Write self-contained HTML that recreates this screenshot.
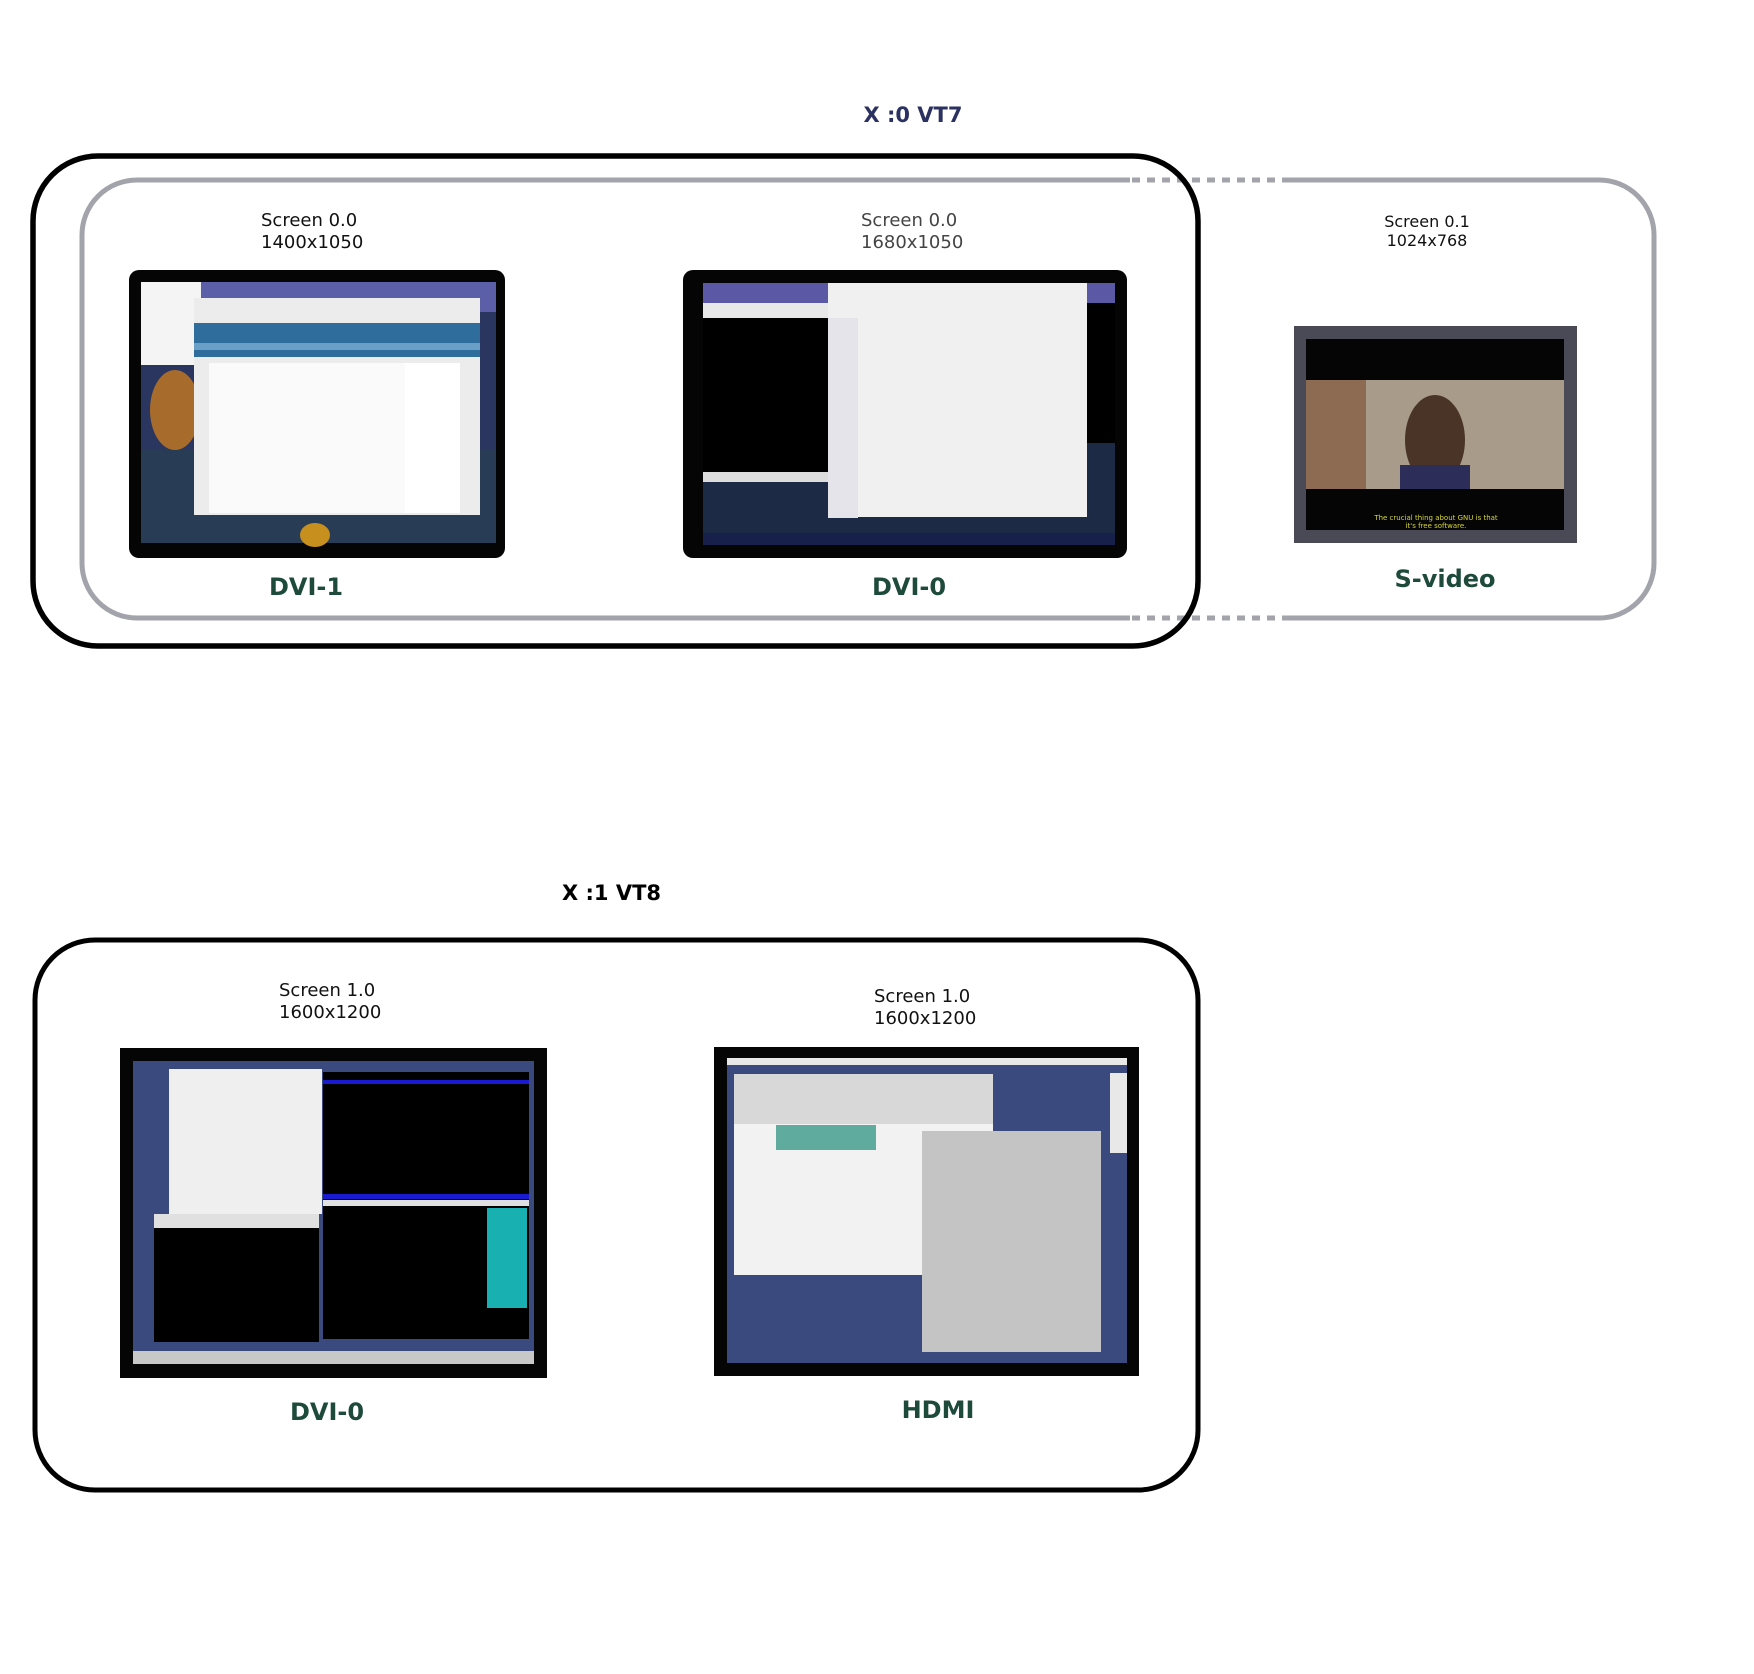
<!DOCTYPE html>
<html><head><meta charset="utf-8"><style>
html,body{margin:0;padding:0;background:#fff;}
svg{display:block;}
text{font-family:"DejaVu Sans","Liberation Sans",sans-serif;}
</style></head><body>
<svg width="1754" height="1674" viewBox="0 0 1754 1674" xmlns="http://www.w3.org/2000/svg">
<rect width="1754" height="1674" fill="#fff"/>

<rect x="82" y="180" width="1572" height="438" rx="55" fill="none" stroke="#a3a3ab" stroke-width="5"/>
<rect x="1130" y="174" width="160" height="12" fill="#fff"/>
<rect x="1130" y="612" width="160" height="12" fill="#fff"/>
<line x1="1132" y1="180" x2="1290" y2="180" stroke="#a3a3ab" stroke-width="5" stroke-dasharray="8 7"/>
<line x1="1132" y1="618" x2="1290" y2="618" stroke="#a3a3ab" stroke-width="5" stroke-dasharray="8 7"/>

<rect x="33" y="156" width="1165" height="490" rx="65" fill="none" stroke="#000" stroke-width="5.5"/>
<text x="913" y="122" font-size="21" font-weight="bold" fill="#2b3160" text-anchor="middle">X :0 VT7</text>

<text x="261" y="226" font-size="18" fill="#111">Screen 0.0</text>
<text x="261" y="248" font-size="18" fill="#111">1400x1050</text>
<text x="861" y="226" font-size="18" fill="#444">Screen 0.0</text>
<text x="861" y="248" font-size="18" fill="#444">1680x1050</text>
<text x="1427" y="227" font-size="16" fill="#111" text-anchor="middle">Screen 0.1</text>
<text x="1427" y="246" font-size="16" fill="#111" text-anchor="middle">1024x768</text>

<rect x="129" y="270" width="376" height="288" rx="10" fill="#050505"/>
<rect x="141" y="282" width="355" height="261" fill="#2a3560"/>
<rect x="141" y="282" width="355" height="30" fill="#5a5fa8"/>
<rect x="141" y="450" width="355" height="93" fill="#283c55"/>
<ellipse cx="175" cy="410" rx="25" ry="40" fill="#c77a1e" opacity="0.8"/>
<rect x="141" y="282" width="60" height="83" fill="#f4f4f4"/>
<rect x="194" y="298" width="286" height="217" fill="#ececec"/>
<rect x="194" y="323" width="286" height="34" fill="#2f6e9c"/>
<rect x="194" y="343" width="286" height="7" fill="#6aa0c8"/>
<rect x="209" y="363" width="200" height="150" fill="#fafafa"/>
<rect x="405" y="363" width="55" height="150" fill="#fff"/>
<ellipse cx="315" cy="535" rx="15" ry="12" fill="#c7901e"/>

<rect x="683" y="270" width="444" height="288" rx="10" fill="#050505"/>
<rect x="703" y="283" width="412" height="262" fill="#1d2a45"/>
<rect x="703" y="283" width="412" height="20" fill="#5b59a5"/>
<rect x="703" y="303" width="125" height="15" fill="#e8e8e8"/>
<rect x="703" y="318" width="125" height="154" fill="#000"/>
<rect x="703" y="472" width="125" height="10" fill="#ddd"/>
<rect x="828" y="283" width="259" height="234" fill="#f0f0f0"/>
<rect x="828" y="318" width="30" height="200" fill="#e4e4ea"/>
<rect x="1087" y="303" width="28" height="140" fill="#000"/>
<rect x="703" y="533" width="412" height="12" fill="#16204a"/>

<rect x="1294" y="326" width="283" height="217" fill="#4a4a56"/>
<rect x="1306" y="339" width="258" height="191" fill="#050505"/>
<rect x="1306" y="380" width="258" height="109" fill="#a89b8a"/>
<rect x="1306" y="380" width="60" height="109" fill="#8d6a52"/>
<ellipse cx="1435" cy="440" rx="30" ry="45" fill="#4a3428"/>
<rect x="1400" y="465" width="70" height="24" fill="#2d2d5a"/>
<text x="1436" y="520" font-size="7" fill="#d7d73a" text-anchor="middle">The crucial thing about GNU is that</text>
<text x="1436" y="528" font-size="7" fill="#d7d73a" text-anchor="middle">it's free software.</text>

<text x="306" y="595" font-size="24" font-weight="bold" fill="#1e4a3b" text-anchor="middle">DVI-1</text>
<text x="909" y="595" font-size="24" font-weight="bold" fill="#1e4a3b" text-anchor="middle">DVI-0</text>
<text x="1445" y="587" font-size="24" font-weight="bold" fill="#1e4a3b" text-anchor="middle">S-video</text>

<text x="562" y="900" font-size="21" font-weight="bold" fill="#000">X :1 VT8</text>
<rect x="35" y="940" width="1163" height="550" rx="60" fill="none" stroke="#000" stroke-width="5"/>
<text x="279" y="996" font-size="18" fill="#111">Screen 1.0</text>
<text x="279" y="1018" font-size="18" fill="#111">1600x1200</text>
<text x="874" y="1002" font-size="18" fill="#111">Screen 1.0</text>
<text x="874" y="1024" font-size="18" fill="#111">1600x1200</text>

<rect x="120" y="1048" width="427" height="330" fill="#050505"/>
<rect x="133" y="1061" width="401" height="290" fill="#3a4a7e"/>
<rect x="133" y="1351" width="401" height="13" fill="#c8c8c8"/>
<rect x="169" y="1069" width="153" height="145" fill="#efefef"/>
<rect x="323" y="1072" width="206" height="267" fill="#000"/>
<rect x="323" y="1080" width="206" height="4" fill="#1a1ad0"/>
<rect x="323" y="1194" width="206" height="5" fill="#1a1ad0"/>
<rect x="323" y="1200" width="206" height="6" fill="#e0e0e0"/>
<rect x="487" y="1208" width="40" height="100" fill="#18b0b0"/>
<rect x="154" y="1214" width="165" height="128" fill="#000"/>
<rect x="154" y="1214" width="165" height="14" fill="#e0e0e0"/>

<rect x="714" y="1047" width="425" height="329" fill="#050505"/>
<rect x="727" y="1058" width="400" height="305" fill="#3a4a7e"/>
<rect x="727" y="1058" width="400" height="7" fill="#e8e8e8"/>
<rect x="734" y="1074" width="259" height="201" fill="#f2f2f2"/>
<rect x="734" y="1074" width="259" height="50" fill="#d8d8d8"/>
<rect x="776" y="1125" width="100" height="25" fill="#3a9a88" opacity="0.8"/>
<rect x="922" y="1131" width="179" height="221" fill="#c4c4c4"/>
<rect x="1110" y="1073" width="17" height="80" fill="#e8e8e8"/>

<text x="327" y="1420" font-size="24" font-weight="bold" fill="#1e4a3b" text-anchor="middle">DVI-0</text>
<text x="938" y="1418" font-size="24" font-weight="bold" fill="#1e4a3b" text-anchor="middle">HDMI</text>
</svg>
</body></html>
